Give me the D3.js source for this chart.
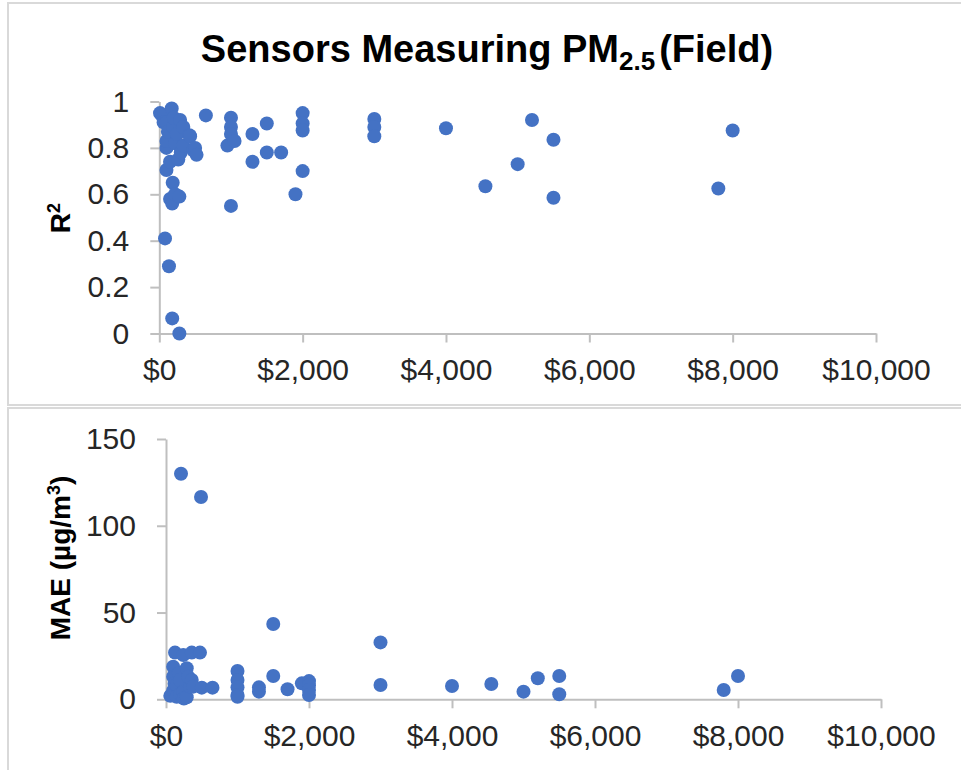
<!DOCTYPE html>
<html>
<head>
<meta charset="utf-8">
<script src="https://cdn.jsdelivr.net/npm/d3@7"></script>
<style>
  body { margin: 0; background: #fff; }
  text { font-family: "Liberation Sans", Arial, sans-serif; }
</style>
</head>
<body>
<div id="chart"></div>
<script>
// sensor cost (USD) vs R2, top panel
const r2Cost = [10, 35, 60, 80, 100, 100, 100, 100, 120, 135, 150, 150, 173, 180, 180, 187, 195, 200, 220, 220,
  250, 265, 280, 280, 290, 300, 335, 335, 420, 430, 475, 500, 520, 650,
  950, 1000, 1000, 1000, 1000, 1050, 1300, 1300, 1500, 1500, 1700, 1900, 2000, 2000, 2000, 2000,
  3000, 3000, 3000, 4000, 4550, 5000, 5200, 5500, 5500, 7800, 8000];
const r2Values = [0.95, 0.94, 0.91, 0.41, 0.91, 0.80, 0.83, 0.705, 0.87, 0.29, 0.74, 0.58, 0.97, 0.065, 0.56, 0.65, 0.89, 0.93, 0.82, 0.60,
  0.86, 0.75, 0.0, 0.59, 0.92, 0.78, 0.89, 0.81, 0.855, 0.85, 0.79, 0.80, 0.77, 0.94,
  0.81, 0.93, 0.89, 0.86, 0.55, 0.83, 0.86, 0.74, 0.905, 0.78, 0.78, 0.60, 0.95, 0.905, 0.875, 0.70,
  0.925, 0.89, 0.85, 0.885, 0.635, 0.73, 0.92, 0.835, 0.585, 0.625, 0.875];

// sensor cost (USD) vs MAE, bottom panel
const maeCost = [60, 100, 100, 100, 120, 126, 150, 150, 180, 196, 200, 210, 242, 242, 250, 290, 290, 310, 335, 360, 360, 380,
  475, 490, 500, 650, 1000, 1000, 1000, 1000, 1000, 1300, 1300, 1500, 1500, 1700, 1900, 2000, 2000, 2000, 2000,
  3000, 3000, 4000, 4550, 5000, 5200, 5500, 5500, 7800, 8000];
const maeValues = [2, 18.8, 13, 5, 9, 26.9, 8.2, 1.5, 15, 11.1, 3, 130, 25.5, 4.4, 0.5, 17.9, 1.2, 13, 7.3, 26.9, 11.1, 7.3,
  26.9, 116.6, 6.7, 6.7, 16.3, 11.1, 6.9, 2.5, 1.5, 6.9, 4.4, 43.4, 13.4, 5.8, 9.2, 10.5, 8, 5.4, 2.5,
  32.8, 8.2, 7.7, 8.8, 4.4, 12.1, 13.4, 2.9, 5.4, 13.4];

const xTicks = [0, 2000, 4000, 6000, 8000, 10000];
const r2Ticks = [0, 0.2, 0.4, 0.6, 0.8, 1];
const maeTicks = [0, 50, 100, 150];

const svgWidth = 961;
const svgHeight = 770;
const dotColor = "#4472C4";
const axisColor = "#bfbfbf";
const labelColor = "#262626";

const svg = d3.select("#chart")
  .append("svg")
  .attr("width", svgWidth)
  .attr("height", svgHeight);

// panel frames
svg.append("rect")
  .attr("x", 8).attr("y", 3)
  .attr("width", svgWidth).attr("height", 402)
  .attr("fill", "none").attr("stroke", "#d9d9d9").attr("stroke-width", 2);
svg.append("rect")
  .attr("x", 8).attr("y", 408)
  .attr("width", svgWidth).attr("height", 380)
  .attr("fill", "none").attr("stroke", "#d9d9d9").attr("stroke-width", 2);

// title
const title = svg.append("text")
  .attr("x", 487)
  .attr("y", 62)
  .attr("text-anchor", "middle")
  .attr("font-size", 38)
  .attr("font-weight", "bold")
  .attr("fill", "#000");
title.append("tspan").text("Sensors Measuring PM");
title.append("tspan").attr("font-size", 26).attr("dy", 8).text("2.5");
title.append("tspan").attr("dy", -8).attr("dx", 4).text("(Field)");

const dollar = d3.format("$,");

function drawPanel(opts) {
  const x = d3.scaleLinear().domain([0, 10000]).range([opts.left, opts.right]);
  const y = d3.scaleLinear().domain(opts.yDomain).range([opts.bottom, opts.top]);

  const g = svg.append("g");

  const xAxis = g.append("g")
    .attr("transform", `translate(0, ${opts.bottom})`)
    .call(d3.axisBottom(x).tickValues(xTicks).tickFormat(dollar).tickSize(9).tickPadding(16).tickSizeOuter(0));

  const yAxis = g.append("g")
    .attr("transform", `translate(${opts.left}, 0)`)
    .call(d3.axisLeft(y).tickValues(opts.yTicks).tickFormat(opts.yFormat).tickSize(9).tickPadding(21).tickSizeOuter(0));

  [xAxis, yAxis].forEach(a => {
    a.select(".domain").attr("stroke", axisColor).attr("stroke-width", 2);
    a.selectAll(".tick line").attr("stroke", axisColor).attr("stroke-width", 2);
    a.selectAll(".tick text")
      .attr("font-size", 30)
      .attr("fill", labelColor)
      .style("font-family", "'Liberation Sans', Arial, sans-serif");
  });

  g.append("g")
    .selectAll("circle")
    .data(opts.xs)
    .enter()
    .append("circle")
    .attr("cx", d => x(d))
    .attr("cy", (d, i) => y(opts.ys[i]))
    .attr("r", 7)
    .attr("fill", dotColor);

  // rotated axis title
  const label = g.append("text")
    .attr("transform", `translate(${opts.labelX}, ${opts.labelY}) rotate(-90)`)
    .attr("text-anchor", "middle")
    .attr("dy", "0.35em")
    .attr("font-size", 28)
    .attr("font-weight", "bold")
    .attr("fill", "#000");
  opts.label(label);
}

drawPanel({
  left: 159.3, right: 876, top: 101.5, bottom: 333.5,
  yDomain: [0, 1], yTicks: r2Ticks, yFormat: d => String(d),
  xs: r2Cost, ys: r2Values,
  labelX: 60, labelY: 218,
  label: t => {
    t.append("tspan").text("R");
    t.append("tspan").attr("font-size", 18).attr("dy", -10).text("2");
  }
});

drawPanel({
  left: 166, right: 881, top: 439, bottom: 699.3,
  yDomain: [0, 150], yTicks: maeTicks, yFormat: d => String(d),
  xs: maeCost, ys: maeValues,
  labelX: 60, labelY: 558,
  label: t => {
    t.append("tspan").text("MAE (µg/m");
    t.append("tspan").attr("font-size", 18).attr("dy", -10).text("3");
    t.append("tspan").attr("dy", 10).text(")");
  }
});
</script>
</body>
</html>
